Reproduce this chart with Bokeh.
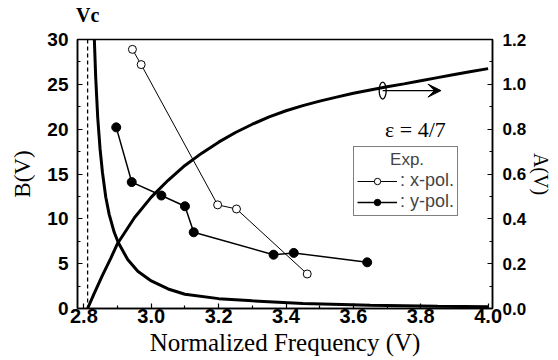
from bokeh.plotting import figure
from bokeh.models import (Range1d, LinearAxis, FixedTicker, NumeralTickFormatter, Span,
                          Label, Arrow, VeeHead, Legend, LegendItem)
from bokeh.embed import file_html
from bokeh.resources import INLINE

# ---------------- data ----------------
vc = 2.811  # cutoff frequency (dashed line)

# theoretical B (left axis, decreasing curve)
b_freq = [2.831, 2.835, 2.841, 2.848, 2.855, 2.865, 2.875, 2.890, 2.902, 2.930, 2.960, 3.000,
          3.050, 3.100, 3.200, 3.300, 3.450, 3.650, 3.850, 4.000]
b_val = [30.0, 25.8, 21.3, 17.8, 15.2, 12.4, 10.5, 8.5, 7.36, 5.46, 4.16, 3.07,
         2.18, 1.59, 1.10, 0.86, 0.55, 0.36, 0.26, 0.20]

# theoretical A (right axis, increasing curve)
a_freq = [2.811, 2.830, 2.855, 2.880, 2.900, 2.950, 3.000, 3.050, 3.100, 3.150, 3.200, 3.250,
          3.300, 3.350, 3.400, 3.450, 3.500, 3.550, 3.600, 3.650, 3.700, 3.750, 3.800, 3.850,
          3.900, 3.950, 4.000]
a_val = [0.0, 0.065, 0.148, 0.225, 0.290, 0.405, 0.497, 0.572, 0.638, 0.693, 0.742, 0.785,
         0.822, 0.855, 0.882, 0.905, 0.925, 0.943, 0.960, 0.975, 0.989, 1.002, 1.016, 1.030,
         1.044, 1.057, 1.070]

# experiment, x-polarisation (open circles)
xpol_freq = [2.944, 2.970, 3.197, 3.253, 3.463]
xpol_b = [28.9, 27.2, 11.56, 11.1, 3.85]

# experiment, y-polarisation (filled circles)
ypol_freq = [2.896, 2.942, 3.030, 3.100, 3.126, 3.363, 3.423, 3.641]
ypol_b = [20.2, 14.1, 12.6, 11.4, 8.5, 6.0, 6.2, 5.15]

# axes ticks
x_ticks = [2.8, 3.0, 3.2, 3.4, 3.6, 3.8, 4.0]
x_minor = [2.9, 3.1, 3.3, 3.5, 3.7, 3.9]
b_ticks = [0, 5, 10, 15, 20, 25, 30]
b_minor = [2.5, 7.5, 12.5, 17.5, 22.5, 27.5]
a_ticks = [0.0, 0.2, 0.4, 0.6, 0.8, 1.0, 1.2]
a_minor = [0.1, 0.3, 0.5, 0.7, 0.9, 1.1]

# annotation anchors (data units)
arrow_x = [3.687, 3.860]
arrow_y = 24.3
eps_pos = (3.784, 18.6)

# ---------------- figure ----------------
p = figure(width=558, height=360, output_backend="svg", toolbar_location=None,
           x_range=Range1d(2.781, 4.013), y_range=Range1d(0, 30),
           min_border_left=77, min_border_right=66, min_border_top=38, min_border_bottom=52)
p.extra_y_ranges = {"A": Range1d(0, 1.2)}
p.xgrid.visible = False
p.ygrid.visible = False
p.outline_line_color = "black"
p.outline_line_width = 1.5
p.background_fill_color = "white"
p.border_fill_color = "white"

def style_axis(ax, size):
    ax.axis_line_width = 1.5
    ax.axis_line_color = "black"
    ax.major_tick_in = 5
    ax.major_tick_out = 0
    ax.minor_tick_in = 3
    ax.minor_tick_out = 0
    ax.major_tick_line_width = 1.2
    ax.minor_tick_line_width = 1.2
    ax.major_label_text_font = "Liberation Sans"
    ax.major_label_text_font_style = "bold"
    ax.major_label_text_font_size = size
    ax.major_label_text_color = "black"
    ax.axis_label_text_font = "Liberation Serif"
    ax.axis_label_text_font_style = "normal"
    ax.axis_label_text_color = "black"

xa = p.xaxis[0]
xa.ticker = FixedTicker(ticks=x_ticks, minor_ticks=x_minor)
xa.formatter = NumeralTickFormatter(format="0.0")
style_axis(xa, "20px")
xa.major_label_standoff = 0
xa.axis_label = "Normalized Frequency (V)"
xa.axis_label_text_font_size = "25px"
xa.axis_label_standoff = 3

ya = p.yaxis[0]
ya.ticker = FixedTicker(ticks=b_ticks, minor_ticks=b_minor)
style_axis(ya, "19px")
ya.major_label_standoff = 9
ya.axis_label = "B(V)"
ya.axis_label_text_font_size = "23px"
ya.axis_label_standoff = 9

ra = LinearAxis(y_range_name="A")
ra.ticker = FixedTicker(ticks=a_ticks, minor_ticks=a_minor)
ra.formatter = NumeralTickFormatter(format="0.0")
style_axis(ra, "17px")
ra.major_label_standoff = 10
ra.axis_label = "A(V)"
ra.axis_label_text_font_size = "20px"
ra.axis_label_standoff = 1
p.add_layout(ra, "right")

# top axis carrying the Vc marker label
ta = LinearAxis(ticker=FixedTicker(ticks=[vc], minor_ticks=[]),
                major_label_overrides={vc: "Vc"})
ta.axis_line_color = None
ta.major_tick_line_color = None
ta.minor_tick_line_color = None
ta.major_label_text_font = "Liberation Serif"
ta.major_label_text_font_style = "bold"
ta.major_label_text_font_size = "20px"
ta.major_label_text_color = "black"
ta.major_label_standoff = 8
p.add_layout(ta, "above")

# cutoff line
p.add_layout(Span(location=vc, dimension="height", line_color="black",
                  line_dash="4 3", line_width=1.3))

# theory curves
p.line(b_freq, b_val, line_color="black", line_width=3)
p.line(a_freq, a_val, y_range_name="A", line_color="black", line_width=3)

# experiments
lx = p.line(xpol_freq, xpol_b, line_color="black", line_width=1)
sx = p.scatter(xpol_freq, xpol_b, marker="circle", size=8, fill_color="white",
               line_color="black", line_width=1)
ly = p.line(ypol_freq, ypol_b, line_color="black", line_width=1.5)
sy = p.scatter(ypol_freq, ypol_b, marker="circle", size=9, fill_color="black",
               line_color="black")

legend = Legend(items=[LegendItem(label=": x-pol.", renderers=[lx, sx]),
                       LegendItem(label=": y-pol.", renderers=[ly, sy])],
                location=(276, 92), title="\u00a0\u00a0\u00a0\u00a0\u00a0\u00a0\u00a0Exp.")
legend.title_text_font = "Liberation Sans"
legend.title_text_font_size = "17px"
legend.title_text_font_style = "normal"
legend.title_standoff = 0
legend.label_text_font = "Liberation Sans"
legend.label_text_font_size = "18px"
legend.glyph_width = 40
legend.glyph_height = 16
legend.label_height = 16
legend.label_standoff = 3
legend.spacing = 0
legend.padding = 3
legend.margin = 0
legend.border_line_color = "black"
legend.border_line_width = 1.2
legend.background_fill_alpha = 1
p.add_layout(legend)

# arrow indicating the right axis
p.ellipse(x=[arrow_x[0]], y=[arrow_y], width=7, height=17, width_units="screen",
          height_units="screen", fill_alpha=0, line_color="black", line_width=1.3)
p.add_layout(Arrow(x_start=arrow_x[0], y_start=arrow_y, x_end=arrow_x[1], y_end=arrow_y,
                   line_width=1.2, line_color="black",
                   end=VeeHead(size=13, fill_color="black", line_color="black")))

p.add_layout(Label(x=eps_pos[0], y=eps_pos[1], text="\u03b5 = 4/7", text_align="center",
                   text_font="Liberation Serif", text_font_size="22px", text_color="black"))

open("out.html", "w").write(file_html(p, INLINE))
